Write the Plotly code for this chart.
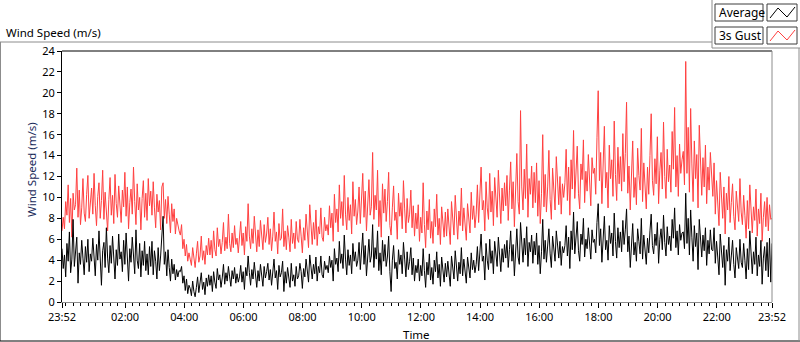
import plotly.graph_objects as go
import pandas as pd

# ---- data: 2.5-minute samples from 23:52 to 23:52 next day (one row per hour) ----
start_time = "2015-01-01 23:52"
step_seconds = 150

gust = [
    6.8, 8.1, 7.0, 9.6, 8.3, 11.2, 7.6, 9.9, 6.2, 10.4, 8.8, 9.3, 12.8, 8.1, 10.7, 7.4, 9.0, 11.8, 8.5, 7.7, 10.3, 12.1, 8.0, 9.5,
    10.9, 8.4, 12.3, 9.2, 7.3, 10.1, 11.4, 8.0, 9.7, 12.6, 7.9, 10.5, 8.6, 6.8, 9.8, 11.9, 8.3, 10.2, 7.5, 12.2, 9.4, 8.1, 11.1, 9.0,
    7.6, 10.7, 9.1, 12.4, 8.2, 11.0, 7.0, 9.5, 10.8, 8.4, 12.9, 9.6, 7.4, 11.3, 8.8, 10.0, 6.9, 9.9, 11.6, 8.1, 10.4, 7.8, 11.8, 9.2,
    10.6, 8.3, 11.5, 9.0, 7.1, 10.3, 8.6, 9.7, 6.9, 11.0, 11.4, 8.0, 9.8, 7.5, 10.1, 8.4, 6.6, 9.4, 7.7, 8.9, 6.5, 8.0, 7.3, 6.8,
    6.4, 7.4, 5.1, 6.0, 4.4, 5.5, 3.9, 4.7, 4.1, 3.5, 5.2, 4.3, 3.3, 4.6, 5.8, 3.8, 4.4, 6.3, 4.0, 4.9, 3.6, 5.4, 4.5, 6.1,
    4.5, 5.9, 4.2, 6.8, 5.0, 4.4, 7.1, 5.3, 6.0, 4.6, 5.7, 7.6, 4.9, 6.2, 5.1, 8.4, 5.6, 4.8, 6.6, 5.2, 7.3, 5.5, 6.1, 4.7,
    6.0, 7.7, 5.4, 6.6, 4.5, 7.2, 5.8, 9.4, 6.3, 5.1, 7.0, 5.6, 8.2, 6.1, 4.8, 6.9, 5.3, 7.8, 6.4, 5.0, 7.4, 5.7, 6.5, 8.1,
    5.5, 7.0, 4.9, 6.3, 8.6, 5.8, 6.7, 4.6, 7.5, 5.9, 6.1, 8.9, 5.3, 6.8, 5.0, 7.3, 6.2, 4.8, 7.9, 5.6, 6.6, 5.1, 7.7, 6.0,
    5.7, 7.9, 6.3, 4.7, 7.1, 5.9, 8.4, 6.6, 5.2, 9.3, 6.9, 5.5, 7.6, 6.0, 8.8, 5.4, 7.2, 6.5, 9.0, 6.2, 5.8, 8.1, 6.8, 7.4,
    6.4, 9.2, 7.1, 8.5, 5.8, 10.3, 7.6, 8.9, 6.7, 11.2, 8.0, 9.6, 7.3, 12.1, 8.4, 6.9, 10.0, 7.8, 9.3, 6.5, 11.5, 8.2, 9.8, 7.4,
    8.7, 11.0, 7.5, 9.9, 12.3, 8.1, 10.6, 6.8, 9.4, 11.7, 8.3, 9.1, 14.3, 7.9, 10.2, 8.8, 12.6, 7.2, 9.7, 6.2, 11.3, 8.5, 10.8, 7.7,
    9.6, 12.4, 7.3, 6.4, 9.0, 11.1, 7.8, 8.6, 6.0, 10.4, 8.2, 9.5, 7.0, 11.6, 8.9, 6.6, 9.9, 7.6, 8.4, 10.7, 7.1, 9.2, 6.3, 8.5,
    7.0, 9.3, 5.8, 8.1, 6.6, 11.4, 7.4, 5.2, 8.7, 6.9, 9.8, 6.1, 7.7, 5.6, 8.9, 7.2, 10.3, 6.4, 8.0, 5.5, 9.1, 7.5, 6.2, 8.6,
    6.3, 8.9, 7.0, 5.5, 9.6, 7.8, 6.4, 10.2, 8.1, 6.0, 8.7, 7.3, 10.9, 6.8, 9.0, 7.5, 5.9, 9.4, 8.3, 6.6, 10.5, 7.9, 9.2, 7.1,
    8.4, 11.2, 7.6, 10.0, 12.9, 8.8, 9.7, 6.8, 11.5, 9.0, 7.9, 12.3, 8.6, 10.6, 7.3, 11.9, 9.4, 8.1, 12.6, 9.9, 7.5, 10.9, 8.7, 11.4,
    9.2, 12.1, 7.8, 10.7, 13.4, 8.9, 11.5, 7.2, 10.2, 14.2, 9.6, 8.4, 18.3, 11.0, 8.8, 12.7, 9.9, 15.1, 8.1, 11.8, 10.3, 13.0, 9.0, 12.4,
    9.5, 13.3, 8.2, 11.6, 7.5, 10.4, 16.0, 9.1, 12.2, 8.6, 11.0, 14.5, 9.8, 7.9, 12.8, 10.1, 8.8, 13.9, 10.7, 9.3, 12.0, 8.4, 11.3, 10.0,
    11.4, 14.6, 9.7, 12.9, 8.3, 13.6, 10.8, 16.4, 9.9, 12.1, 14.9, 10.4, 8.9, 13.2, 11.7, 15.5, 9.5, 12.5, 10.6, 14.1, 11.1, 9.2, 13.8, 12.3,
    12.8, 10.3, 15.7, 20.2, 11.6, 14.3, 9.4, 13.1, 16.8, 10.9, 12.4, 9.0, 15.0, 11.8, 13.6, 10.1, 17.3, 12.2, 9.7, 14.8, 11.3, 13.9, 10.6, 16.1,
    11.5, 14.2, 19.1, 10.4, 13.0, 8.8, 12.6, 15.4, 10.0, 11.9, 9.3, 14.7, 12.1, 10.7, 16.6, 9.6, 13.3, 11.2, 8.9, 12.9, 10.3, 14.0, 18.0, 11.6,
    10.2, 13.7, 11.3, 15.8, 9.4, 12.6, 14.3, 10.8, 17.2, 12.0, 9.9, 14.6, 11.5, 13.1, 10.5, 16.3, 12.7, 18.6, 11.0, 14.0, 10.1, 15.1, 12.3, 13.6,
    14.4, 11.2, 23.0, 12.3, 16.7, 10.5, 18.5, 13.2, 9.6, 15.4, 11.8, 14.1, 9.0, 16.9, 12.6, 10.2, 13.8, 11.0, 15.0, 9.4, 12.9, 10.7, 14.3, 11.4,
    10.1, 13.3, 8.4, 11.6, 9.2, 7.3, 12.4, 9.7, 8.0, 11.0, 6.5, 10.4, 8.8, 12.0, 7.6, 9.5, 11.3, 8.2, 6.9, 10.6, 9.0, 7.7, 11.8, 8.6,
    7.4, 10.2, 8.3, 6.1, 9.7, 7.0, 11.2, 8.6, 6.6, 9.1, 7.8, 10.8, 6.3, 8.9, 7.5, 10.4, 5.8, 8.1, 9.6, 7.2, 10.0, 6.8, 9.3, 7.9,
    8.0,
]

average = [
    5.1, 3.2, 4.5, 2.4, 5.6, 3.9, 6.7, 2.8, 4.1, 7.9, 3.4, 5.0, 6.2, 1.8, 4.7, 3.6, 5.9, 4.2, 2.6, 5.3, 3.8, 6.0, 2.9, 4.6,
    3.9, 6.1, 4.4, 2.5, 5.5, 4.0, 6.8, 3.1, 1.6, 4.9, 5.7, 3.3, 7.1, 4.2, 2.8, 5.4, 3.7, 6.3, 4.6, 2.2, 5.0, 3.5, 6.5, 4.1,
    4.8, 2.9, 5.9, 3.6, 6.6, 4.3, 2.0, 5.1, 3.8, 6.2, 4.5, 2.7, 6.9, 4.0, 3.2, 5.6, 2.4, 4.9, 3.5, 5.8, 3.0, 4.6, 2.6, 5.3,
    3.4, 5.8, 2.6, 4.9, 3.9, 2.2, 5.2, 3.0, 4.4, 6.1, 8.2, 3.6, 4.8, 2.5, 5.0, 3.3, 2.0, 4.1, 2.7, 3.6, 2.1, 3.1, 2.4, 3.0,
    2.9, 3.4, 1.8, 2.5, 1.1, 2.2, 0.8, 1.6, 1.3, 0.6, 2.0, 1.0, 0.5, 1.4, 2.4, 0.9, 1.7, 2.8, 1.2, 1.9, 0.7, 2.3, 1.5, 2.6,
    1.6, 2.5, 1.0, 2.9, 1.9, 1.3, 3.2, 2.1, 2.6, 1.4, 2.3, 3.6, 1.7, 2.8, 2.0, 3.4, 2.4, 1.5, 3.0, 2.2, 3.3, 1.8, 2.7, 1.9,
    2.4, 3.5, 1.9, 2.9, 1.2, 3.3, 2.5, 4.4, 2.8, 1.6, 3.1, 2.2, 3.8, 2.6, 1.4, 3.0, 2.0, 3.6, 2.7, 1.5, 3.4, 2.3, 2.9, 3.7,
    2.1, 3.1, 1.6, 2.7, 4.1, 2.3, 3.0, 1.2, 3.5, 2.4, 2.8, 3.9, 1.0, 2.9, 1.8, 3.3, 2.5, 1.4, 3.7, 2.0, 2.6, 1.5, 3.4, 2.2,
    2.5, 3.7, 2.9, 1.3, 3.2, 2.4, 4.1, 3.0, 1.9, 4.5, 3.3, 2.2, 3.6, 2.7, 4.3, 2.0, 3.4, 2.8, 4.4, 2.6, 2.3, 3.9, 3.1, 3.5,
    2.8, 4.4, 3.3, 4.0, 2.0, 5.1, 3.6, 4.2, 2.9, 5.8, 3.7, 4.6, 3.2, 6.4, 4.1, 2.6, 5.0, 3.5, 4.5, 2.7, 5.6, 3.9, 4.8, 3.4,
    4.0, 5.7, 3.1, 4.9, 6.6, 3.6, 5.4, 2.5, 4.6, 6.0, 3.8, 4.4, 7.4, 3.3, 5.2, 4.1, 6.8, 3.0, 4.7, 2.6, 5.9, 3.9, 5.5, 3.4,
    4.3, 6.3, 2.9, 1.0, 4.0, 5.4, 3.2, 3.8, 2.2, 5.0, 3.6, 4.5, 2.7, 5.7, 4.1, 2.4, 4.8, 3.1, 3.9, 5.2, 2.6, 4.2, 2.0, 3.5,
    2.8, 4.1, 2.0, 3.5, 2.5, 5.1, 3.0, 1.4, 3.8, 2.6, 4.6, 2.1, 3.3, 1.7, 4.0, 2.9, 4.8, 2.3, 3.6, 1.5, 4.3, 3.1, 1.9, 3.7,
    2.4, 3.9, 2.9, 1.5, 4.4, 3.2, 2.2, 4.9, 3.5, 2.0, 3.8, 2.7, 5.2, 2.5, 4.1, 3.0, 1.8, 4.3, 3.4, 2.3, 4.7, 3.1, 4.0, 2.8,
    3.6, 5.3, 3.0, 4.5, 6.5, 3.9, 4.4, 2.1, 5.6, 4.0, 3.1, 6.0, 3.7, 4.9, 2.7, 5.8, 4.2, 3.4, 6.2, 4.6, 2.9, 5.1, 3.8, 5.5,
    4.2, 5.9, 3.3, 5.0, 6.8, 3.9, 5.5, 2.5, 4.6, 7.0, 4.3, 3.6, 7.6, 5.2, 3.8, 6.1, 4.5, 7.2, 3.4, 5.7, 4.8, 6.4, 3.7, 5.8,
    4.5, 6.6, 3.6, 5.4, 2.7, 4.8, 7.9, 4.1, 5.9, 3.8, 5.1, 7.0, 4.6, 3.3, 6.3, 4.9, 3.9, 6.8, 5.0, 4.2, 5.8, 3.5, 5.3, 4.7,
    5.4, 7.3, 4.4, 6.2, 3.2, 6.8, 5.0, 8.6, 4.6, 5.9, 7.7, 4.9, 3.9, 6.5, 5.5, 8.0, 4.3, 6.0, 5.1, 7.1, 5.3, 4.1, 6.9, 5.7,
    6.0, 4.7, 7.6, 9.4, 5.4, 7.0, 3.8, 6.3, 8.2, 5.0, 5.9, 4.0, 7.3, 5.6, 6.6, 4.4, 8.5, 5.8, 4.2, 7.1, 5.2, 6.7, 4.8, 7.8,
    5.5, 6.9, 8.9, 4.8, 6.3, 3.3, 5.9, 7.5, 4.5, 5.7, 3.9, 7.0, 5.8, 4.6, 8.0, 4.1, 6.4, 5.2, 3.6, 6.1, 4.7, 6.8, 8.4, 5.4,
    4.6, 6.5, 5.4, 7.6, 3.7, 6.0, 7.0, 5.0, 8.3, 5.7, 4.4, 7.2, 5.5, 6.3, 4.9, 7.9, 6.1, 9.0, 5.2, 6.8, 4.5, 7.4, 5.9, 6.6,
    6.7, 5.1, 10.4, 5.6, 8.0, 4.5, 8.8, 6.2, 3.9, 7.3, 5.3, 6.6, 3.1, 7.9, 5.8, 4.3, 6.4, 4.9, 7.1, 3.5, 5.9, 4.6, 6.9, 5.0,
    4.9, 7.1, 3.7, 5.8, 4.3, 2.6, 6.5, 4.6, 3.3, 5.4, 1.6, 5.0, 3.9, 6.2, 3.0, 4.4, 5.9, 3.6, 2.3, 5.2, 4.1, 3.2, 6.0, 3.8,
    3.3, 5.6, 4.0, 2.2, 5.1, 3.1, 6.8, 4.4, 2.7, 4.8, 3.6, 6.2, 2.5, 4.5, 3.4, 5.9, 1.7, 4.2, 5.3, 3.0, 5.7, 2.4, 6.1, 1.9,
    5.6,
]

tick_times = ["2015-01-01 23:52", "2015-01-02 02:00", "2015-01-02 04:00",
              "2015-01-02 06:00", "2015-01-02 08:00", "2015-01-02 10:00",
              "2015-01-02 12:00", "2015-01-02 14:00", "2015-01-02 16:00",
              "2015-01-02 18:00", "2015-01-02 20:00", "2015-01-02 22:00",
              "2015-01-02 23:52"]
tick_labels = ["23:52", "02:00", "04:00", "06:00", "08:00", "10:00", "12:00",
               "14:00", "16:00", "18:00", "20:00", "22:00", "23:52"]
y_ticks = [0, 2, 4, 6, 8, 10, 12, 14, 16, 18, 20, 22, 24]

times = pd.date_range(start_time, periods=len(gust), freq=f"{step_seconds}s")

# ---- geometry helpers (pixel -> paper) ----
W, H = 800, 342
L, R, T, B = 62, 772, 51, 302


def px(x):
    return (x - L) / (R - L)


def py(y):
    return (B - y) / (B - T)


FONT = "Noto Sans"

fig = go.Figure()
fig.add_trace(go.Scatter(x=times, y=gust, mode="lines", name="3s Gust",
                         line=dict(color="#ff4040", width=1), showlegend=False))
fig.add_trace(go.Scatter(x=times, y=average, mode="lines", name="Average",
                         line=dict(color="#000000", width=1), showlegend=False))

fig.update_layout(
    width=W, height=H,
    margin=dict(l=L, r=W - R, t=T, b=H - B, pad=0),
    paper_bgcolor="white", plot_bgcolor="white",
    font=dict(family=FONT, size=11, color="#000"),
    showlegend=False,
)

fig.update_xaxes(
    range=[times[0], times[-1]],
    tickmode="array", tickvals=tick_times, ticktext=tick_labels,
    ticks="outside", ticklen=5, tickcolor="#000", tickwidth=1,
    showline=True, linecolor="#8c8c8c", linewidth=1,
    showgrid=False, zeroline=False,
    tickfont=dict(family=FONT, size=11, color="#000"),
    minor=dict(ticks="outside", ticklen=3, tickcolor="#000",
               dtick=15 * 60 * 1000, tick0="2015-01-02 00:00", showgrid=False),
)
fig.update_yaxes(
    range=[0, 24], tickmode="array", tickvals=y_ticks,
    ticks="outside", ticklen=4, tickcolor="#000", tickwidth=1,
    showline=True, linecolor="#000", linewidth=1,
    showgrid=False, zeroline=False,
    tickfont=dict(family=FONT, size=11, color="#000"),
)

shapes = []
gray = "#8c8c8c"
# top plot border (black) and right plot border (gray)
shapes.append(dict(type="line", xref="paper", yref="paper", x0=px(L), x1=px(R), y0=py(T), y1=py(T),
                   line=dict(color="#000", width=1)))
shapes.append(dict(type="line", xref="paper", yref="paper", x0=px(R), x1=px(R), y0=py(T), y1=py(B),
                   line=dict(color=gray, width=1)))
# outer frame
shapes.append(dict(type="line", xref="paper", yref="paper", x0=px(0), x1=px(712), y0=py(42), y1=py(42),
                   line=dict(color=gray, width=1)))
shapes.append(dict(type="line", xref="paper", yref="paper", x0=px(0.5), x1=px(0.5), y0=py(42), y1=py(341),
                   line=dict(color=gray, width=1)))
shapes.append(dict(type="line", xref="paper", yref="paper", x0=px(0), x1=px(800), y0=py(341), y1=py(341),
                   line=dict(color="#000", width=1)))
shapes.append(dict(type="line", xref="paper", yref="paper", x0=px(799), x1=px(799), y0=py(48), y1=py(341),
                   line=dict(color=gray, width=1)))
# legend panel frame
shapes.append(dict(type="line", xref="paper", yref="paper", x0=px(712), x1=px(712), y0=py(0), y1=py(48),
                   line=dict(color=gray, width=1)))
shapes.append(dict(type="line", xref="paper", yref="paper", x0=px(712), x1=px(800), y0=py(48), y1=py(48),
                   line=dict(color=gray, width=1)))

legend_rows = [("Average", "#000000", 4), ("3s Gust", "#ff4040", 27)]
annotations = []
for label, color, top in legend_rows:
    bot = top + 17
    shapes.append(dict(type="rect", xref="paper", yref="paper", x0=px(715), x1=px(763),
                       y0=py(bot), y1=py(top), line=dict(color="#3c3c3c", width=1), fillcolor="white"))
    shapes.append(dict(type="rect", xref="paper", yref="paper", x0=px(767), x1=px(797),
                       y0=py(bot), y1=py(top), line=dict(color="#3c3c3c", width=1), fillcolor="white"))
    pts = [(770, bot - 3), (778, top + 4), (787, bot - 4), (795, top + 3)]
    path = "M " + " L ".join(f"{px(x)},{py(y)}" for x, y in pts)
    shapes.append(dict(type="path", xref="paper", yref="paper", path=path,
                       line=dict(color=color, width=1)))
    annotations.append(dict(text=label, xref="paper", yref="paper", x=px(717), y=py(top + 8.5),
                            xanchor="left", yanchor="middle", showarrow=False,
                            font=dict(family=FONT, size=12, color="#000")))

annotations.append(dict(text="Wind Speed (m/s)", xref="paper", yref="paper", x=px(4), y=py(32),
                        xanchor="left", yanchor="middle", showarrow=False,
                        font=dict(family=FONT, size=11.5, color="#000")))
annotations.append(dict(text="Wind Speed (m/s)", xref="paper", yref="paper", x=px(31), y=py(170),
                        xanchor="center", yanchor="middle", showarrow=False, textangle=-90,
                        font=dict(family=FONT, size=11.5, color="#1a2a5a")))
annotations.append(dict(text="Time", xref="paper", yref="paper", x=px(416), y=py(334),
                        xanchor="center", yanchor="middle", showarrow=False,
                        font=dict(family=FONT, size=11.5, color="#000")))

fig.update_layout(shapes=shapes, annotations=annotations)
fig.write_html("out.html", config={"displayModeBar": False},
               post_script="document.body.style.margin='0';document.body.style.overflow='hidden';")
